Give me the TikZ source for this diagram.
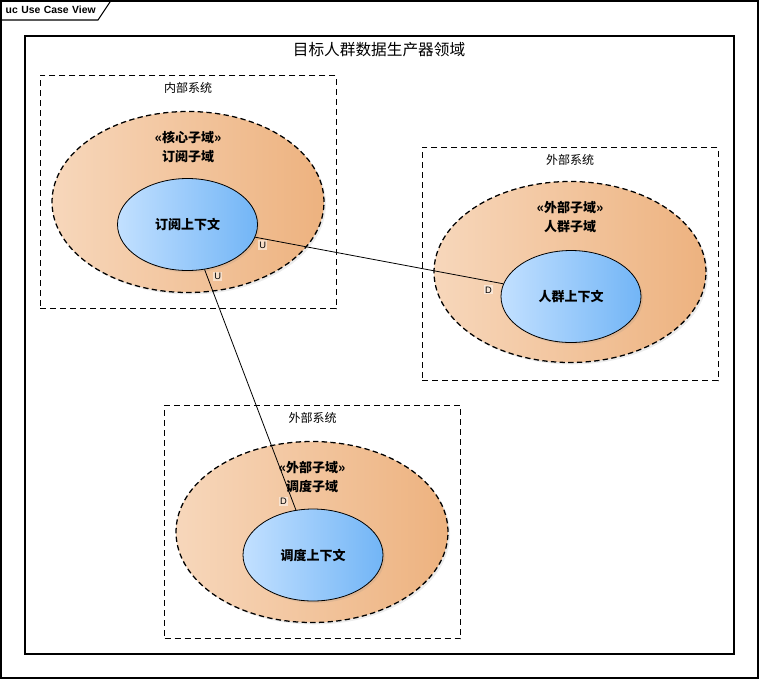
\documentclass[tikz,border=0pt]{standalone}
\usepackage{fontspec}
\setmainfont{Noto Sans CJK SC}
\newfontfamily\latinfont{Liberation Sans}
\usepackage{xcolor}
\usetikzlibrary{positioning,shapes.geometric,shadows}

\definecolor{domL}{HTML}{F7D7BB}
\definecolor{domR}{HTML}{EDB27F}
\definecolor{ctxL}{HTML}{C2E0FF}
\definecolor{ctxR}{HTML}{72B5F6}

\begin{document}
\begin{tikzpicture}[x=0.75pt, y=-0.75pt,
  viewframe/.style={draw, line width=0.8pt, inner sep=0pt},
  tabtext/.style={anchor=north west, inner xsep=3.75pt, inner ysep=0pt, minimum height=14.25pt, text width=65.25pt, font=\latinfont\bfseries\fontsize{7.8}{9}\selectfont},
  sysbox/.style={draw, line width=0.75pt, dash pattern=on 4.5pt off 3pt, minimum width=222pt, minimum height=175pt, inner sep=0pt},
  syslabel/.style={font=\fontsize{9}{11}\selectfont, inner sep=1pt},
  subdomain/.style={ellipse, draw, line width=0.95pt, dash pattern=on 4pt off 2.5pt, left color=domL, right color=domR, minimum width=204pt, minimum height=135.75pt, inner sep=0pt, drop shadow={shadow xshift=1.5pt, shadow yshift=-1.5pt, opacity=0.15}},
  domtext/.style={align=center, font=\bfseries\fontsize{9.75}{14.25}\selectfont, inner sep=1pt},
  ctxnode/.style={ellipse, draw, line width=0.6pt, left color=ctxL, right color=ctxR, minimum width=105pt, minimum height=69pt, inner sep=0pt, font=\bfseries\fontsize{9.75}{12}\selectfont, drop shadow={shadow xshift=1.5pt, shadow yshift=-1.5pt, opacity=0.15}},
  rel/.style={draw, line width=0.6pt},
  endtag/.style={font=\latinfont\fontsize{7}{8}\selectfont, fill=white, fill opacity=0.5, text opacity=1, inner sep=1pt},
]
\useasboundingbox (0,0) rectangle (759,679);

\node[viewframe, minimum width=567.75pt, minimum height=507.75pt] (view) at (379.5,339.5) {};
\node[tabtext] (tab) at (view.north west) {\mbox{uc Use Case View}\hfill};
\draw[line width=0.8pt] (tab.south west) -- (tab.south east) -- ([xshift=9.75pt]tab.north east);

\node[viewframe, minimum width=531.75pt, minimum height=463.5pt] (area) at (379.5,345) {};
\node[font=\fontsize{11.75}{14}\selectfont] (title) at (379,50) {目标人群数据生产器领域};

\node[sysbox] (sys1) at (188,192) {};
\node[syslabel] (lab1) at ([yshift=-9.75pt]sys1.north) {内部系统};
\node[sysbox] (sys2) at (570,264) {};
\node[syslabel] (lab2) at ([yshift=-9.75pt]sys2.north) {外部系统};
\node[sysbox] (sys3) at (312.5,522) {};
\node[syslabel] (lab3) at ([yshift=-9.75pt]sys3.north) {外部系统};

\node[subdomain] (dom1) at (188,202) {};
\node[domtext] (name1) at ([yshift=41.25pt]dom1.center) {«核心子域»\\订阅子域};
\node[subdomain] (dom2) at (570,272) {};
\node[domtext] (name2) at ([yshift=41.25pt]dom2.center) {«外部子域»\\人群子域};
\node[subdomain] (dom3) at (312,532) {};
\node[domtext] (name3) at ([yshift=41.25pt]dom3.center) {«外部子域»\\调度子域};

\node[ctxnode] (ctx1) at (187.5,224.5) {订阅上下文};
\node[ctxnode] (ctx2) at (571,296.5) {人群上下文};
\node[ctxnode] (ctx3) at (313,555) {调度上下文};

\draw[rel] (ctx1) -- (ctx2)
  node[endtag, pos=0.03, below=1pt] {U}
  node[endtag, pos=0.94, below=3pt] {D};
\draw[rel] (ctx1) -- (ctx3)
  node[endtag, pos=0.03, right=4pt] {U}
  node[endtag, pos=0.965, left=3pt] {D};

\end{tikzpicture}
\end{document}
